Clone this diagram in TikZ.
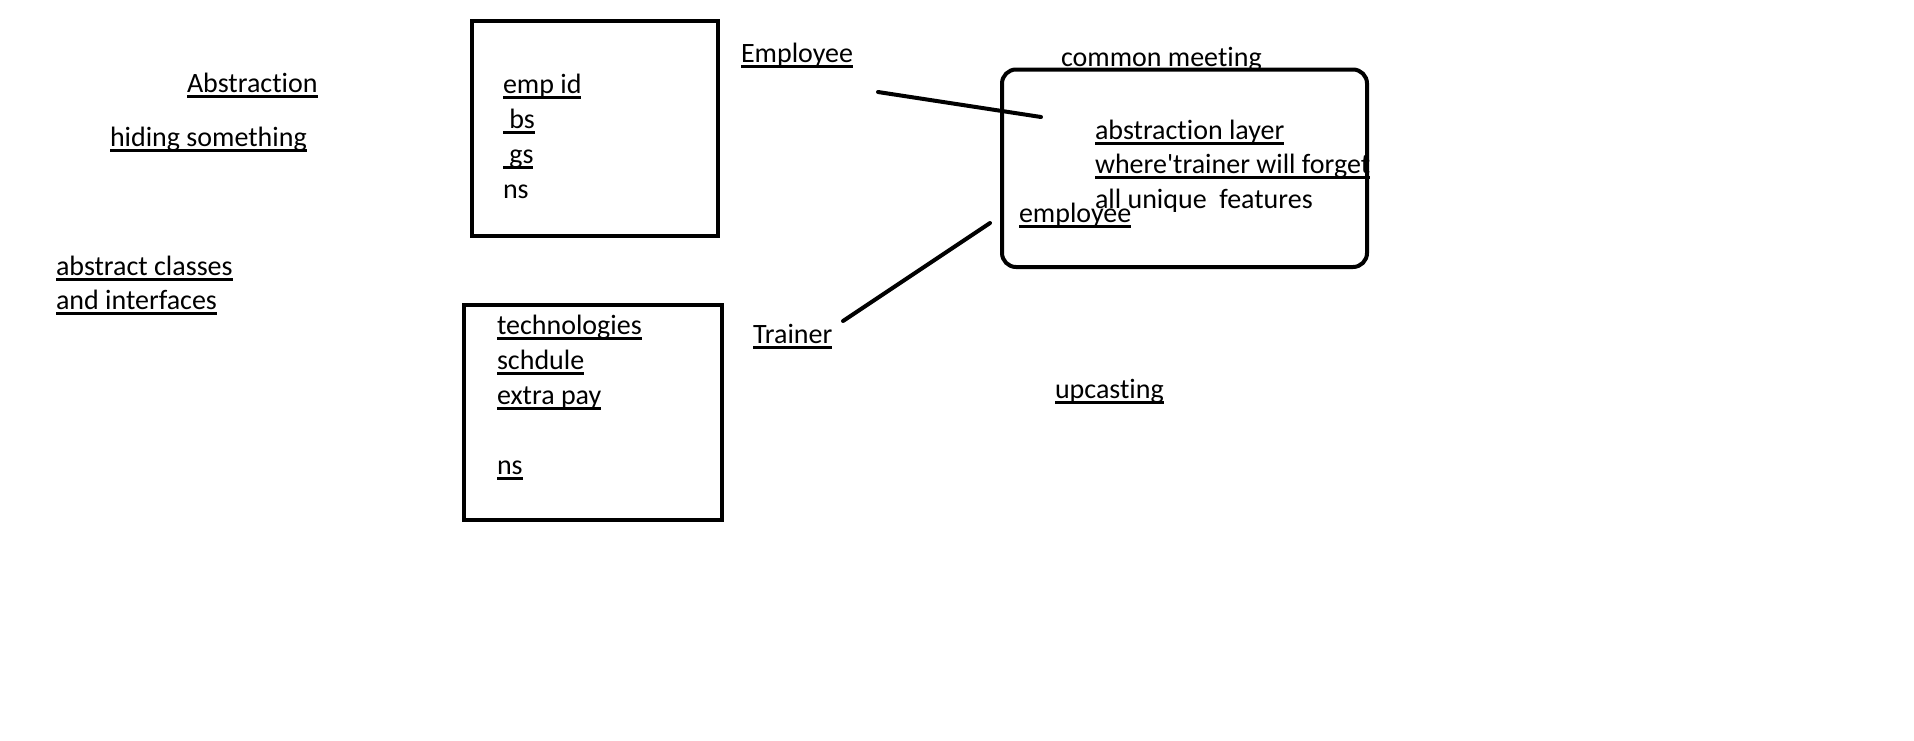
\documentclass[tikz,border=0pt]{standalone}
\usepackage{fontspec}
\newfontfamily\calfont{Carlito}[Ligatures=NoCommon]
\newcommand\myul[1]{\setbox0\hbox{#1}\rlap{\rule[-2.8pt]{\wd0}{1.1pt}}\box0}
\tikzset{
  txt/.style={anchor=base west, inner sep=0pt, outer sep=0pt, font=\calfont\fontsize{14pt}{17pt}\selectfont, text=black},
  sqbox/.style={draw=black, line width=2.3pt, fill=none, inner sep=0pt},
  rbox/.style={draw=black, line width=2pt, rounded corners=7pt, inner sep=0pt},
  conn/.style={draw=black, line width=2pt, line cap=round}
}
\begin{document}
\begin{tikzpicture}[x=0.5pt, y=-0.5pt]
\useasboundingbox[fill=white] (0,0) rectangle (1914,740);
% left texts
\node[txt] (abs) at (187,92) {\myul{Abstraction}};
\node[txt] (hid) at (110,146) {\myul{hiding something}};
\node[txt] (acl) at (56,275) {\myul{abstract classes}};
\node[txt] (aif) at (56,309) {\myul{and interfaces}};
% employee box
\node[sqbox, minimum width=123pt, minimum height=107.5pt] (b1) at (595,128.5) {};
\node[txt] (eid) at (503,93) {\myul{emp id}};
\node[txt] (ebs) at (503,128) {\myul{\ bs}};
\node[txt] (egs) at (503,163) {\myul{\ gs}};
\node[txt] (ens) at (503,198) {ns};
\node[txt] (emp) at (741,62) {\myul{Employee}};
% trainer box
\node[sqbox, minimum width=129pt, minimum height=107.5pt] (b2) at (593,412.5) {};
\node[txt] (tte) at (497,334) {\myul{technologies}};
\node[txt] (tsc) at (497,369) {\myul{schdule}};
\node[txt] (tex) at (497,404) {\myul{extra pay}};
\node[txt] (tns) at (497,474) {\myul{ns}};
\node[txt] (trn) at (753,343) {\myul{Trainer}};
% common meeting (cut by the box top)
\begin{scope}
\clip (0,0) rectangle (1914,69);
\node[txt] (cm) at (1061,66) {common meeting};
\end{scope}
% texts inside rounded box
\node[txt] (al) at (1095,139) {\myul{abstraction layer}};
\node[txt] (wt) at (1095,173) {\myul{where'trainer will forget}};
\begin{scope}
\clip (0,0) rectangle (1914,211);
\node[txt] (auf) at (1095,208) {all unique\ \ features};
\end{scope}
\node[txt] (emlow) at (1019,222) {\myul{employee}};
\node[rbox, minimum width=182.5pt, minimum height=98.75pt] (rb) at (1184.5,168.25) {};
% connectors
\coordinate (e1) at (878,92);
\coordinate (e2) at (1041,117);
\draw[conn] (e1) -- (e2);
\coordinate (t1) at (843,321);
\coordinate (t2) at (990,223);
\draw[conn] (t1) -- (t2);
\node[txt] (up) at (1055,398) {\myul{upcasting}};
\end{tikzpicture}
\end{document}
